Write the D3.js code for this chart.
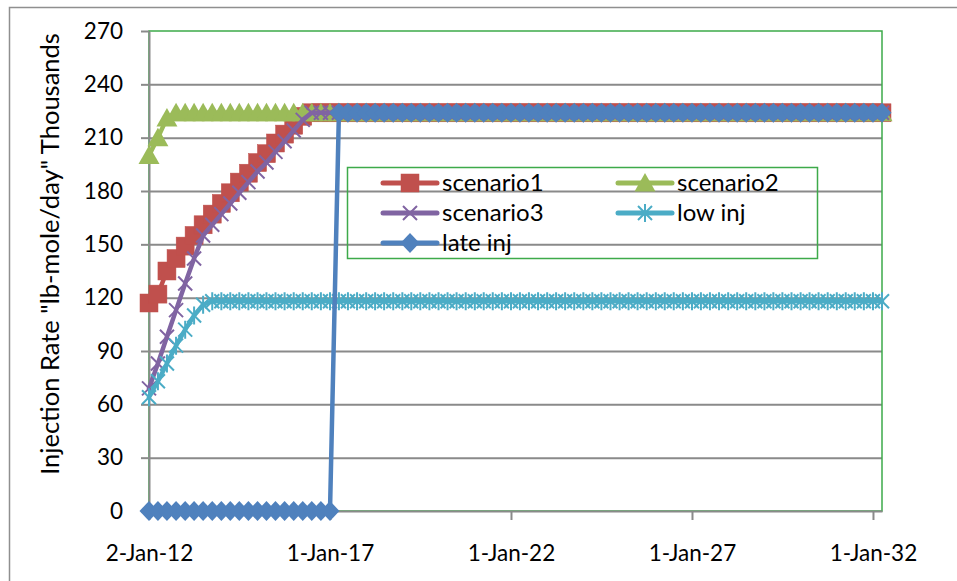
<!DOCTYPE html>
<html>
<head>
<meta charset="utf-8">
<script src="https://cdn.jsdelivr.net/npm/d3@7"></script>
<style>
  body { margin: 0; background: #fff; }
  svg { display: block; }
  text { font-family: Lato, "Noto Sans", sans-serif; fill: #000; }
</style>
</head>
<body>
<svg id="chart" width="957" height="581"></svg>
<script>
// ---- data ------------------------------------------------------------
// quarterly reporting dates, first point on 2-Jan-2012
const firstDate = "2012-01-02";
const pointCount = 82;

const xTickDates = ["2012-01-02", "2017-01-01", "2022-01-01", "2027-01-01", "2032-01-01"];
const yTicks = [0, 30, 60, 90, 120, 150, 180, 210, 240, 270];
const seriesNames = ["scenario1", "scenario2", "scenario3", "low inj", "late inj"];

// injection rate, thousands of lb-mole/day
const scenario1 = [
  117, 122, 135, 142, 149, 155, 161, 167, 173, 179,
  185, 190, 196, 201, 207, 212, 217, 222, 224, 224,
  224, 224, 224, 224, 224, 224, 224, 224, 224, 224,
  224, 224, 224, 224, 224, 224, 224, 224, 224, 224,
  224, 224, 224, 224, 224, 224, 224, 224, 224, 224,
  224, 224, 224, 224, 224, 224, 224, 224, 224, 224,
  224, 224, 224, 224, 224, 224, 224, 224, 224, 224,
  224, 224, 224, 224, 224, 224, 224, 224, 224, 224,
  224, 224
];
const scenario2 = [
  200, 210, 221, 224, 224, 224, 224, 224, 224, 224,
  224, 224, 224, 224, 224, 224, 224, 224, 224, 224,
  224, 224, 224, 224, 224, 224, 224, 224, 224, 224,
  224, 224, 224, 224, 224, 224, 224, 224, 224, 224,
  224, 224, 224, 224, 224, 224, 224, 224, 224, 224,
  224, 224, 224, 224, 224, 224, 224, 224, 224, 224,
  224, 224, 224, 224, 224, 224, 224, 224, 224, 224,
  224, 224, 224, 224, 224, 224, 224, 224, 224, 224,
  224, 224
];
const scenario3 = [
  69, 83, 98, 113, 128, 142, 155, 161, 167, 173,
  179, 185, 191, 196, 202, 208, 214, 220, 224, 224,
  224, 224, 224, 224, 224, 224, 224, 224, 224, 224,
  224, 224, 224, 224, 224, 224, 224, 224, 224, 224,
  224, 224, 224, 224, 224, 224, 224, 224, 224, 224,
  224, 224, 224, 224, 224, 224, 224, 224, 224, 224,
  224, 224, 224, 224, 224, 224, 224, 224, 224, 224,
  224, 224, 224, 224, 224, 224, 224, 224, 224, 224,
  224, 224
];
const lowInj = [
  64, 73, 83, 93, 102, 110, 116, 118, 118, 118,
  118, 118, 118, 118, 118, 118, 118, 118, 118, 118,
  118, 118, 118, 118, 118, 118, 118, 118, 118, 118,
  118, 118, 118, 118, 118, 118, 118, 118, 118, 118,
  118, 118, 118, 118, 118, 118, 118, 118, 118, 118,
  118, 118, 118, 118, 118, 118, 118, 118, 118, 118,
  118, 118, 118, 118, 118, 118, 118, 118, 118, 118,
  118, 118, 118, 118, 118, 118, 118, 118, 118, 118,
  118, 118
];
const lateInj = [
  0, 0, 0, 0, 0, 0, 0, 0, 0, 0,
  0, 0, 0, 0, 0, 0, 0, 0, 0, 0,
  0, 224, 224, 224, 224, 224, 224, 224, 224, 224,
  224, 224, 224, 224, 224, 224, 224, 224, 224, 224,
  224, 224, 224, 224, 224, 224, 224, 224, 224, 224,
  224, 224, 224, 224, 224, 224, 224, 224, 224, 224,
  224, 224, 224, 224, 224, 224, 224, 224, 224, 224,
  224, 224, 224, 224, 224, 224, 224, 224, 224, 224,
  224, 224
];

// ---- layout ------------------------------------------------------------
const parseDate = d3.timeParse("%Y-%m-%d");
const start = parseDate(firstDate);
const dates = d3.range(pointCount).map(i =>
  i === 0 ? start : d3.timeMonth.offset(new Date(2012, 0, 1), 3 * i));

const plot = { left: 149, right: 882, top: 31, bottom: 511 };
const gridColor = "#8a8a8a";
const frameGreen = "#3daa4a";
const tickFont = 22.5;

const x = d3.scaleTime()
  .domain([dates[0], dates[dates.length - 1]])
  .range([plot.left, plot.right]);
const y = d3.scaleLinear()
  .domain([0, 270])
  .range([plot.bottom, plot.top]);

const svg = d3.select("#chart");

// outer chart frame
svg.append("rect")
  .attr("x", 9.5).attr("y", 7.5)
  .attr("width", 1000).attr("height", 1000)
  .attr("fill", "none").attr("stroke", "#8f8f8f").attr("stroke-width", 1.5);

// horizontal gridlines
svg.append("g")
  .attr("transform", `translate(${plot.left},0)`)
  .call(d3.axisLeft(y)
    .tickValues(yTicks.filter(v => v > 0 && v < 270))
    .tickSize(-(plot.right - plot.left))
    .tickFormat(""))
  .call(g => g.select(".domain").remove())
  .call(g => g.selectAll(".tick line").attr("stroke", gridColor).attr("stroke-width", 2));

// plot area border
svg.append("rect")
  .attr("x", plot.left).attr("y", plot.top)
  .attr("width", plot.right - plot.left).attr("height", plot.bottom - plot.top)
  .attr("fill", "none").attr("stroke", frameGreen).attr("stroke-width", 1.5);

// y axis
svg.append("g")
  .attr("transform", `translate(${plot.left},0)`)
  .call(d3.axisLeft(y).tickValues(yTicks).tickSize(8).tickSizeOuter(0).tickPadding(18))
  .call(g => g.select(".domain").attr("stroke", gridColor).attr("stroke-width", 2))
  .call(g => g.selectAll(".tick line").attr("stroke", gridColor).attr("stroke-width", 2))
  .call(g => g.selectAll(".tick text").attr("font-size", tickFont).attr("font-family", "Lato"));

// x axis
svg.append("g")
  .attr("transform", `translate(0,${plot.bottom})`)
  .call(d3.axisBottom(x)
    .tickValues(xTickDates.map(parseDate))
    .tickFormat(d3.timeFormat("%-d-%b-%y"))
    .tickSize(9).tickSizeOuter(0).tickPadding(25))
  .call(g => g.select(".domain").attr("stroke", gridColor).attr("stroke-width", 2))
  .call(g => g.selectAll(".tick line").attr("stroke", gridColor).attr("stroke-width", 2))
  .call(g => g.selectAll(".tick text").attr("font-size", tickFont).attr("font-family", "Lato"));

// y axis title
svg.append("text")
  .attr("transform", "translate(59,254) rotate(-90)")
  .attr("text-anchor", "middle")
  .attr("font-size", 25.5)
  .text('Injection Rate "lb-mole/day" Thousands');

// ---- marker shapes -----------------------------------------------------
function drawMarker(sel, kind, color) {
  if (kind === "square") {
    sel.append("rect").attr("x", -9).attr("y", -9).attr("width", 18).attr("height", 18)
      .attr("fill", color).attr("stroke", color).attr("stroke-width", 0.5);
  } else if (kind === "triangle") {
    sel.append("path").attr("d", "M0,-10L10.5,8.5L-10.5,8.5Z")
      .attr("fill", color);
  } else if (kind === "diamond") {
    sel.append("path").attr("d", "M0,-10L9.5,0L0,10L-9.5,0Z")
      .attr("fill", color);
  } else if (kind === "cross") {
    sel.append("path").attr("d", "M-7,-7L7,7M-7,7L7,-7")
      .attr("stroke", color).attr("stroke-width", 2).attr("fill", "none");
  } else if (kind === "star") {
    sel.append("path").attr("d", "M-7,-7L7,7M-7,7L7,-7M0,-9L0,9")
      .attr("stroke", color).attr("stroke-width", 2).attr("fill", "none");
  }
}

const series = [
  { name: seriesNames[0], values: scenario1, color: "#C0504D", marker: "square" },
  { name: seriesNames[1], values: scenario2, color: "#9BBB59", marker: "triangle" },
  { name: seriesNames[2], values: scenario3, color: "#8064A2", marker: "cross" },
  { name: seriesNames[3], values: lowInj,    color: "#4BACC6", marker: "star" },
  { name: seriesNames[4], values: lateInj,   color: "#4F81BD", marker: "diamond" }
];

const line = d3.line()
  .x((d, i) => x(dates[i]))
  .y(d => y(d));

series.forEach(s => {
  const g = svg.append("g").attr("class", "series");
  g.append("path")
    .attr("d", line(s.values))
    .attr("fill", "none")
    .attr("stroke", s.color)
    .attr("stroke-width", 4.5)
    .attr("stroke-linejoin", "round")
    .attr("stroke-linecap", "round");
  g.selectAll("g.pt")
    .data(s.values)
    .join("g")
    .attr("class", "pt")
    .attr("transform", (d, i) => `translate(${x(dates[i])},${y(d)})`)
    .each(function () { drawMarker(d3.select(this), s.marker, s.color); });
});

// ---- legend ------------------------------------------------------------
const legend = svg.append("g");
legend.append("rect")
  .attr("x", 347.5).attr("y", 167.5).attr("width", 470).attr("height", 91)
  .attr("fill", "none").attr("stroke", frameGreen).attr("stroke-width", 1.5);

const legendCols = [383, 618];
const legendRows = [183, 213, 243];
series.forEach((s, i) => {
  const lx = legendCols[i % 2];
  const ly = legendRows[Math.floor(i / 2)];
  const item = legend.append("g").attr("transform", `translate(${lx},${ly})`);
  item.append("line")
    .attr("x1", 0).attr("x2", 54).attr("y1", 0).attr("y2", 0)
    .attr("stroke", s.color).attr("stroke-width", 5).attr("stroke-linecap", "round");
  drawMarker(item.append("g").attr("transform", "translate(27,0)"), s.marker, s.color);
  item.append("text")
    .attr("x", 59).attr("y", 8)
    .attr("font-size", 24)
    .text(s.name);
});
</script>
</body>
</html>
